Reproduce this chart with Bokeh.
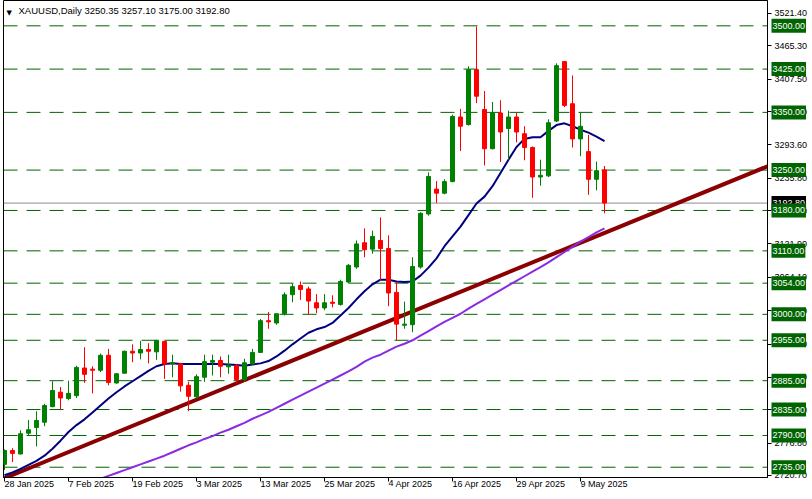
from bokeh.plotting import figure
from bokeh.models import FixedTicker, PrintfTickFormatter, Span, Label, Range1d, GridBox
from bokeh.embed import file_html
from bokeh.resources import INLINE

symbol = "XAUUSD,Daily"

dates = [
    "2025-01-28", "2025-01-29", "2025-01-30", "2025-01-31",
    "2025-02-03", "2025-02-04", "2025-02-05", "2025-02-06", "2025-02-07",
    "2025-02-10", "2025-02-11", "2025-02-12", "2025-02-13", "2025-02-14",
    "2025-02-17", "2025-02-18", "2025-02-19", "2025-02-20", "2025-02-21",
    "2025-02-24", "2025-02-25", "2025-02-26", "2025-02-27", "2025-02-28",
    "2025-03-03", "2025-03-04", "2025-03-05", "2025-03-06", "2025-03-07",
    "2025-03-10", "2025-03-11", "2025-03-12", "2025-03-13", "2025-03-14",
    "2025-03-17", "2025-03-18", "2025-03-19", "2025-03-20", "2025-03-21",
    "2025-03-24", "2025-03-25", "2025-03-26", "2025-03-27", "2025-03-28",
    "2025-03-31", "2025-04-01", "2025-04-02", "2025-04-03", "2025-04-04",
    "2025-04-07", "2025-04-08", "2025-04-09", "2025-04-10", "2025-04-11",
    "2025-04-14", "2025-04-15", "2025-04-16", "2025-04-17",
    "2025-04-21", "2025-04-22", "2025-04-23", "2025-04-24", "2025-04-25",
    "2025-04-28", "2025-04-29", "2025-04-30", "2025-05-01", "2025-05-02",
    "2025-05-05", "2025-05-06", "2025-05-07", "2025-05-08", "2025-05-09",
    "2025-05-12", "2025-05-13", "2025-05-14",
]

opens = [2740, 2764, 2758, 2794, 2804, 2813, 2840, 2865, 2854, 2859,
         2907, 2905, 2903, 2929, 2881, 2898, 2936, 2933, 2939, 2935,
         2953, 2914, 2914, 2877, 2857, 2891, 2917, 2920, 2909, 2911,
         2887, 2914, 2934, 2989, 2985, 3001, 3034, 3050, 3044, 3020,
         3011, 3021, 3017, 3056, 3082, 3124, 3113, 3128, 3114, 3038,
         2981, 2982, 3082, 3174, 3217, 3210, 3230, 3342, 3329, 3424,
         3355, 3287, 3349, 3322, 3342, 3313, 3289, 3238, 3240, 3335,
         3438, 3365, 3304, 3282, 3234, 3250.35]
highs = [2766, 2768, 2799, 2817, 2832, 2845, 2884, 2874, 2885, 2911,
         2943, 2910, 2932, 2940, 2898, 2937, 2948, 2954, 2950, 2956,
         2954, 2930, 2916, 2883, 2896, 2930, 2930, 2927, 2930, 2914,
         2923, 2940, 2992, 3004, 3001, 3038, 3053, 3057, 3048, 3035,
         3035, 3033, 3060, 3087, 3128, 3149, 3145, 3168, 3137, 3056,
         3022, 3099, 3177, 3246, 3231, 3234, 3346, 3356, 3430, 3499,
         3387, 3368, 3371, 3353, 3349, 3326, 3291, 3268, 3338, 3435,
         3438, 3414, 3350, 3311, 3265, 3257.10]
lows = [2730, 2744, 2757, 2790, 2771, 2806, 2839, 2834, 2851, 2855,
        2881, 2863, 2900, 2877, 2880, 2897, 2917, 2922, 2915, 2921,
        2888, 2891, 2866, 2832, 2854, 2883, 2894, 2891, 2897, 2881,
        2883, 2913, 2933, 2975, 2982, 2998, 3021, 3025, 2999, 3002,
        3007, 3012, 3015, 3054, 3079, 3099, 3105, 3058, 3014, 2955,
        2975, 2969, 3079, 3171, 3193, 3208, 3229, 3283, 3327, 3366,
        3258, 3286, 3264, 3268, 3298, 3267, 3202, 3223, 3238, 3333,
        3359, 3289, 3274, 3207, 3215, 3175.00]
closes = [2764, 2759, 2793, 2800, 2816, 2842, 2868, 2855, 2863, 2908,
          2896, 2903, 2929, 2882, 2897, 2936, 2933, 2939, 2936, 2955,
          2914, 2916, 2876, 2858, 2892, 2918, 2920, 2910, 2912, 2887,
          2916, 2934, 2989, 2987, 3001, 3034, 3048, 3043, 3023, 3011,
          3020, 3019, 3057, 3085, 3122, 3112, 3135, 3114, 3037, 2983,
          2983, 3083, 3175, 3239, 3210, 3230, 3343, 3326, 3424, 3378,
          3287, 3349, 3316, 3342, 3316, 3289, 3238, 3241, 3332, 3431,
          3362, 3304, 3326, 3234, 3249, 3192.80]

# moving averages (navy: fast, blueviolet: slow)
ma_fast = [2721, 2726, 2732, 2739, 2746, 2755, 2767, 2781, 2796, 2808,
           2818, 2830, 2842, 2854, 2865, 2875, 2884, 2893, 2902, 2910,
           2914, 2915, 2914, 2914, 2914, 2914, 2914, 2914, 2913, 2912,
           2911, 2913, 2915, 2919, 2927, 2937, 2948, 2958, 2968, 2974,
           2978, 2985, 2998, 3011, 3026, 3040, 3052, 3060, 3060, 3057,
           3056, 3057, 3067, 3081, 3097, 3118, 3135, 3152, 3172, 3192,
           3204, 3222, 3245, 3268, 3290, 3304, 3307, 3307, 3318, 3328,
           3331, 3326, 3320, 3315, 3308, 3300]
ma_slow_first_date = "2025-02-12"
ma_slow = [2710, 2715, 2720, 2725, 2730, 2735, 2740, 2745, 2750, 2755,
           2761, 2767, 2773, 2778, 2784, 2789, 2795, 2800, 2806, 2812,
           2819, 2825, 2831, 2838, 2845, 2852, 2859, 2866, 2873, 2880,
           2887, 2894, 2901, 2909, 2918, 2925, 2930, 2937, 2944, 2949,
           2955, 2963, 2971, 2979, 2987, 2994, 3001, 3010, 3018, 3026,
           3034, 3042, 3050, 3058, 3066, 3074, 3082, 3090, 3099, 3108,
           3117, 3126, 3134, 3142, 3149]

trend_dates = ["2025-01-28", "2025-05-14"]
trend_prices = [2716.0, 3141.0]

levels = [3500, 3425, 3350, 3250, 3180, 3110, 3054, 3000, 2955, 2885,
          2835, 2790, 2735]

ytick_values = [3521.40, 3465.30, 3407.50, 3351.40, 3293.60, 3235.80,
                3179.70, 3121.90, 3064.10, 3006.30, 2948.50, 2890.70,
                2834.60, 2776.80, 2720.70]

xtick_dates = ["2025-01-28", "2025-02-07", "2025-02-19", "2025-03-03",
               "2025-03-13", "2025-03-25", "2025-04-04", "2025-04-16",
               "2025-04-29", "2025-05-09"]
xtick_labels = ["28 Jan 2025", "7 Feb 2025", "19 Feb 2025", "3 Mar 2025",
                "13 Mar 2025", "25 Mar 2025", "4 Apr 2025", "16 Apr 2025",
                "29 Apr 2025", "9 May 2025"]

# ---------------------------------------------------------------
FONT = "Liberation Sans"
GREEN = "#008000"
RED = "#ff0000"
LEVEL = "#006400"

TOTAL_W = 812
SCALE_W = 45
BORDER_L = 3
FRAME_W = TOTAL_W - SCALE_W - BORDER_L
FRAME_H = 477

idx = list(range(len(dates)))
X0, X1 = -0.125, 95.375
yr = Range1d(2717.2, 3543.9)

p = figure(frame_width=FRAME_W, frame_height=FRAME_H,
           x_range=(X0, X1), y_range=yr,
           y_axis_location="right", toolbar_location=None,
           output_backend="svg", min_border_left=BORDER_L, min_border_top=0,
           min_border_right=SCALE_W, min_border_bottom=0)
p.grid.visible = False
p.outline_line_color = "black"
p.background_fill_color = "white"
p.border_fill_color = "white"

# level lines and price line
for lv in levels:
    p.add_layout(Span(location=lv, dimension="width", line_color=LEVEL,
                      line_dash="14 9", line_width=1, level="underlay"))
p.add_layout(Span(location=closes[-1], dimension="width",
                  line_color="#8c8c8c", line_width=1, level="underlay"))

# trend line (extended to the chart edges)
tx = [dates.index(d) for d in trend_dates]
slope = (trend_prices[1] - trend_prices[0]) / (tx[1] - tx[0])
ext_x = [X0 - 1, X1 + 1]
ext_y = [trend_prices[0] + slope * (x - tx[0]) for x in ext_x]
p.line(ext_x, ext_y, line_color="#8b0000", line_width=4)

# moving averages
p.line(idx, ma_fast, line_color="#000080", line_width=2)
s0 = dates.index(ma_slow_first_date)
p.line(list(range(s0, s0 + len(ma_slow))), ma_slow, line_color="#8a2be2",
       line_width=2)

# candles
colors = [GREEN if c >= o else RED for o, c in zip(opens, closes)]
tops = [max(o, c) for o, c in zip(opens, closes)]
bots = [min(o, c) for o, c in zip(opens, closes)]
p.segment(x0=idx, y0=lows, x1=idx, y1=highs, line_color=colors, line_width=1)
p.vbar(x=idx, top=tops, bottom=bots, width=0.5, fill_color=colors,
       line_color=colors, line_width=1)

# axes
p.xaxis.ticker = FixedTicker(ticks=[dates.index(d) for d in xtick_dates])
p.xaxis.major_label_overrides = {dates.index(d): t
                                 for d, t in zip(xtick_dates, xtick_labels)}
p.xaxis.minor_tick_line_color = None
p.xaxis.major_tick_in = 0
p.xaxis.major_tick_out = 4
p.xaxis.major_label_standoff = 2
p.xaxis.major_label_orientation = -0.0001
p.yaxis.ticker = FixedTicker(ticks=ytick_values)
p.yaxis.formatter = PrintfTickFormatter(format="%.2f")
p.yaxis.minor_tick_line_color = None
p.yaxis.major_tick_in = 0
p.yaxis.major_tick_out = 4
p.yaxis.major_label_standoff = 3
for ax in (p.xaxis, p.yaxis):
    ax.axis_line_color = "black"
    ax.major_tick_line_color = "black"
    ax.major_label_text_font = FONT
    ax.major_label_text_font_size = "9px"
    ax.major_label_text_color = "black"

# header
header = (f"{symbol}  {opens[-1]:.2f} {highs[-1]:.2f} "
          f"{lows[-1]:.2f} {closes[-1]:.2f}")
p.add_layout(Label(x=X0, y=yr.end, x_offset=3, y_offset=-8, text="\u25bc",
                   text_font="DejaVu Sans", text_font_size="7px",
                   text_baseline="top", text_color="black"))
p.add_layout(Label(x=X0, y=yr.end, x_offset=15, y_offset=-4, text=header,
                   text_font=FONT, text_font_size="9.5px",
                   text_baseline="top", text_color="black"))

# transparent overlay figure for the price tags on the price scale
q = figure(frame_width=TOTAL_W, frame_height=FRAME_H,
           x_range=Range1d(0, TOTAL_W), y_range=yr,
           x_axis_location=None, y_axis_location=None,
           toolbar_location=None, output_backend="svg",
           min_border_left=0, min_border_right=0, min_border_top=0,
           min_border_bottom=0)
q.grid.visible = False
q.outline_line_color = None
q.background_fill_alpha = 0
q.border_fill_alpha = 0

tag_x = BORDER_L + FRAME_W + 1
q.add_layout(Label(x=tag_x, y=closes[-1], text=f"{closes[-1]:.2f}",
                   text_baseline="middle", text_align="left",
                   text_color="white", text_font=FONT,
                   text_font_size="9px", background_fill_color="black",
                   padding=(1, 4)))
for lv in levels:
    q.add_layout(Label(x=tag_x, y=lv, text=f"{lv:.2f}",
                       text_baseline="middle", text_align="left",
                       text_color="white", text_font=FONT,
                       text_font_size="9px", background_fill_color=LEVEL,
                       padding=(1, 4)))

layout = GridBox(children=[(p, 0, 0), (q, 0, 0)])
open("out.html", "w").write(file_html(layout, INLINE))
